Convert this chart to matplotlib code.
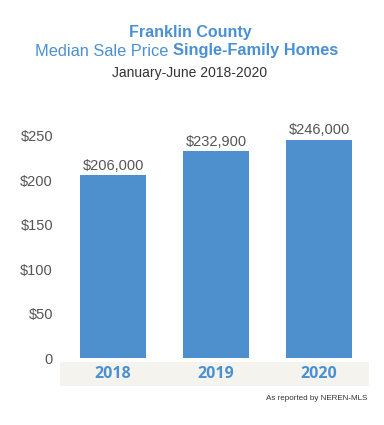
import matplotlib
matplotlib.use('Agg')
import matplotlib.pyplot as plt
from matplotlib.patches import Rectangle

years = ['2018', '2019', '2020']
prices = [206, 232.9, 246]          # thousands of dollars
price_labels = ['$206,000', '$232,900', '$246,000']
yticks = [0, 50, 100, 150, 200, 250]
ytick_labels = ['0', '$50', '$100', '$150', '$200', '$250']

blue = '#4e8fcd'
title_blue = '#4a90d2'
gray = '#555555'
W, H = 384, 425

plt.rcParams['font.family'] = ['Liberation Sans', 'DejaVu Sans']
fig = plt.figure(figsize=(W / 100, H / 100), dpi=100)


def px(x, y):
    return x / W, 1 - y / H


# axes: x from 60 to 369 px, zero line at y=358, 250 at y=136
l, b = px(60, 358)
r, t = px(369, 136)
ax = fig.add_axes([l, b, r - l, t - b])
ax.set_xlim(-0.515, 2.485)
ax.set_ylim(0, 250)
ax.bar(range(len(years)), prices, width=0.64, color=blue, zorder=2)
for i, (v, s) in enumerate(zip(prices, price_labels)):
    ax.text(i, v + 2.5, s, ha='center', va='bottom', fontsize=10.5, color=gray,
            clip_on=False)
ax.set_yticks(yticks)
ax.set_yticklabels(ytick_labels, fontsize=10.5, color=gray)
ax.tick_params(axis='y', length=0, pad=5)
ax.set_xticks([])
for sp in ax.spines.values():
    sp.set_visible(False)
ax.patch.set_alpha(0)

# label band under the bars
bx, by = px(60, 386)
bw = (369 - 60) / W
bh = (386 - 362) / H
fig.add_artist(Rectangle((bx, by), bw, bh, transform=fig.transFigure,
                         facecolor='#f5f3ee', edgecolor='none', zorder=0))
for i, yr in enumerate(years):
    xd = ax.transData.transform((i, 0))[0] / fig.bbox.width
    fig.text(xd, 1 - 374 / H, yr, ha='center', va='center', fontsize=11.5,
             fontweight='bold', color=title_blue, family=['Open Sans', 'DejaVu Sans'])

# titles
fig.text(*px(190, 32), 'Franklin County', ha='center', va='center', fontsize=11.5,
         fontweight='bold', color=title_blue)
fig.text(*px(168, 51), 'Median Sale Price', ha='right', va='center', fontsize=11.8,
         color=title_blue)
fig.text(*px(173, 51), 'Single-Family Homes', ha='left', va='center', fontsize=11.8,
         fontweight='bold', color=title_blue)
fig.text(*px(190, 73), 'January-June 2018-2020', ha='center', va='center', fontsize=10,
         color='#333333')
fig.text(*px(367, 398), 'As reported by NEREN-MLS', ha='right', va='center',
         fontsize=5.8, color='#333333')

fig.savefig('out.png', dpi=100)
